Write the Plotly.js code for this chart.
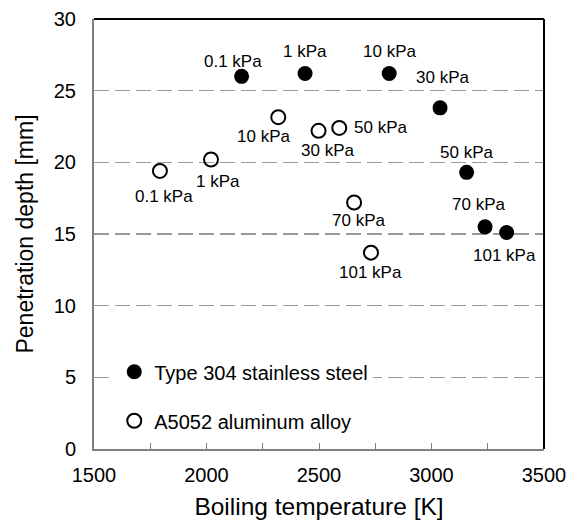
<!DOCTYPE html>
<html>
<head>
<meta charset="utf-8">
<script src="https://cdn.plot.ly/plotly-3.0.1.min.js"></script>
<style>html,body{margin:0;padding:0;background:#fff;}#chart{width:571px;height:520px;}</style>
</head>
<body>
<div id="chart"></div>
<script>
// ---- data ----
const steelName = "Type 304 stainless steel";
const steelTemp = [2156, 2438, 2812, 3038, 3156, 3238, 3334];
const steelDepth = [26.0, 26.2, 26.2, 23.8, 19.3, 15.5, 15.1];
const steelLabels = ["0.1 kPa", "1 kPa", "10 kPa", "30 kPa", "50 kPa", "70 kPa", "101 kPa"];

const alName = "A5052 aluminum alloy";
const alTemp = [1793, 2020, 2319, 2498, 2590, 2656, 2731];
const alDepth = [19.4, 20.2, 23.15, 22.2, 22.4, 17.2, 13.7];
const alLabels = ["0.1 kPa", "1 kPa", "10 kPa", "30 kPa", "50 kPa", "70 kPa", "101 kPa"];

const xTickVals = [1500, 2000, 2500, 3000, 3500];
const yTickVals = [0, 5, 10, 15, 20, 25, 30];

// ---- label placement (pixel offsets of each label from its point) ----
const steelShift = [[-9, 15], [0, 22], [0, 22], [2, 30], [0, 20], [-7, 22], [-2, -23]];
const alShift = [[4, -26], [7, -22], [-15, -19], [9, -20], [41, 0], [4, -18], [0, -20]];

const FONT = "Liberation Sans, Arial, sans-serif";

const traces = [
  {
    type: "scatter", mode: "markers", name: steelName,
    x: steelTemp, y: steelDepth,
    marker: {symbol: "circle", size: 15, color: "#000", line: {width: 0}},
    legendgroup: "a"
  },
  {
    type: "scatter", mode: "markers", name: alName,
    x: alTemp, y: alDepth,
    marker: {symbol: "circle-open", size: 14, color: "#000", line: {width: 2, color: "#000"}},
    legendgroup: "b"
  }
];

const annotations = [];
steelTemp.forEach((t, i) => annotations.push({
  x: t, y: steelDepth[i], xref: "x", yref: "y", text: steelLabels[i], showarrow: false,
  xshift: steelShift[i][0], yshift: steelShift[i][1], font: {family: FONT, size: 17, color: "#000"}
}));
alTemp.forEach((t, i) => annotations.push({
  x: t, y: alDepth[i], xref: "x", yref: "y", text: alLabels[i], showarrow: false,
  xshift: alShift[i][0], yshift: alShift[i][1], font: {family: FONT, size: 17, color: "#000"}
}));

const layout = {
  width: 571, height: 520,
  margin: {l: 94, r: 27, t: 19, b: 71},
  paper_bgcolor: "#fff", plot_bgcolor: "#fff",
  font: {family: FONT, size: 20, color: "#000"},
  showlegend: true,
  legend: {
    x: 0.045, y: 0.225, xanchor: "left", yanchor: "top",
    bgcolor: "#fff", borderwidth: 0,
    font: {family: FONT, size: 20, color: "#000"},
    traceorder: "grouped", tracegroupgap: 20
  },
  xaxis: {
    range: [1500, 3500], tickvals: xTickVals, ticktext: xTickVals.map(String),
    showline: true, linecolor: "#808080", linewidth: 2,
    ticks: "inside", ticklen: 6, tickcolor: "#808080", tickwidth: 1,
    minor: {dtick: 250, tick0: 1500, ticks: "inside", ticklen: 6, tickcolor: "#808080", tickwidth: 1, showgrid: false},
    showgrid: false, zeroline: false,
    tickfont: {family: FONT, size: 20, color: "#000"},
    ticklabelstandoff: 7,
    title: {text: "Boiling temperature [K]", font: {family: FONT, size: 24.5, color: "#000"}, standoff: 13}
  },
  yaxis: {
    range: [0, 30], tickvals: yTickVals, ticktext: yTickVals.map(String),
    showline: true, linecolor: "#808080", linewidth: 2,
    ticks: "", showgrid: true, gridcolor: "#999", gridwidth: 1.5, griddash: "15px,6px",
    zeroline: false,
    tickfont: {family: FONT, size: 20, color: "#000"},
    ticklabelstandoff: 12,
    title: {text: "Penetration depth [mm]", font: {family: FONT, size: 23, color: "#000"}, standoff: 14}
  },
  shapes: [
    {type: "line", xref: "paper", yref: "paper", x0: 0, x1: 1, y0: 1, y1: 1, line: {color: "#000", width: 2}},
    {type: "line", xref: "paper", yref: "paper", x0: 1, x1: 1, y0: 0, y1: 1, line: {color: "#000", width: 2}}
  ],
  annotations: annotations
};

Plotly.newPlot("chart", traces, layout, {displayModeBar: false, staticPlot: true});
</script>
</body>
</html>
